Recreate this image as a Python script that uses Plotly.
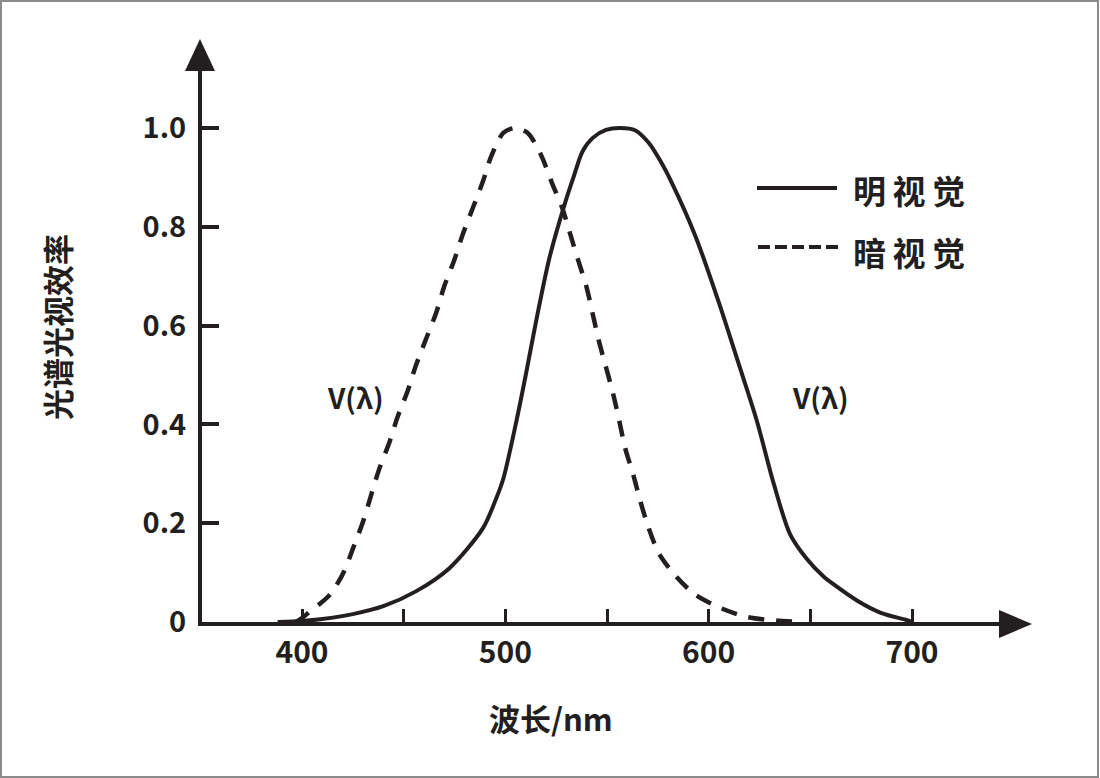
# -*- coding: utf-8 -*-
#
# Spectral luminous efficiency: photopic vs scotopic V(lambda).

import plotly.graph_objects as go

# photopic (明视觉)
photopic_nm = [388, 400, 410, 425, 440, 456, 472.5, 489, 495.5, 499, 505, 510,
               515, 521.5, 529.5, 533.5, 538, 543, 549.5, 556.5, 564, 570.5, 576, 582,
               593.5, 605, 614.5, 623.5, 632, 640, 648, 656.5, 660.5, 673.5, 685, 696.5,
               700]
photopic_v = [0, 0.002, 0.006, 0.016, 0.032, 0.062, 0.109, 0.19, 0.25, 0.29,
              0.398, 0.499, 0.606, 0.734, 0.85, 0.9, 0.953, 0.98, 0.996, 1.0, 0.995,
              0.97, 0.935, 0.888, 0.781, 0.647, 0.526, 0.41, 0.28, 0.178, 0.129, 0.092,
              0.079, 0.042, 0.018, 0.005, 0.0]

# scotopic (暗视觉)
scotopic_nm = [397, 400, 403, 413, 417, 421, 425, 430, 434, 438, 443, 447, 452, 456, 461,
               466, 470, 475, 479, 484, 489, 493, 499, 505, 511, 517.5, 523, 528, 532, 536,
               540, 543, 546, 549.5, 553, 556, 559, 563, 566.5, 570.5, 575.5, 584, 593.5,
               606, 619, 633, 646]
scotopic_v = [0, 0.008, 0.018, 0.052, 0.075, 0.105, 0.148, 0.203, 0.257, 0.310, 0.364,
              0.415, 0.468, 0.519, 0.573, 0.626, 0.680, 0.734, 0.784, 0.838, 0.892, 0.942,
              0.99, 1.0, 0.99, 0.946, 0.888, 0.838, 0.784, 0.73, 0.677, 0.623, 0.569,
              0.516, 0.462, 0.408, 0.351, 0.297, 0.243, 0.190, 0.139, 0.092, 0.055, 0.028,
              0.010, 0.003, 0]

x_ticks = [400, 450, 500, 550, 600, 650, 700]
x_ticktext = ['400', '', '500', '', '600', '', '700']
y_ticks = [0, 0.2, 0.4, 0.6, 0.8, 1.0]
y_ticktext = ['0', '0.2', '0.4', '0.6', '0.8', '1.0']

INK = '#231f20'
FONT = 'Noto Sans CJK SC'
SP = '\u2009'

# plot area in pixels
L, R, T, B = 202, 95, 60, 156
W, H = 1100 - L - R, 778 - T - B


def px(x):
    return (x - L) / W


def py(y):
    return (778 - B - y) / H


def font(size):
    return {'family': FONT, 'size': size, 'color': INK, 'weight': 'bold'}


nm_per_px = 300 / 610.0
x_range = [400 + (L - 302) * nm_per_px, 400 + (1100 - R - 302) * nm_per_px]
y_range = [0, H / 494.0]

fig = go.Figure()

fig.add_trace(go.Scatter(
    x=photopic_nm, y=photopic_v, mode='lines', name='明视觉',
    line={'color': INK, 'width': 4, 'shape': 'spline', 'smoothing': 0.8},
))
fig.add_trace(go.Scatter(
    x=scotopic_nm, y=scotopic_v, mode='lines', name='暗视觉',
    line={'color': INK, 'width': 4.5, 'dash': '16px,12px', 'shape': 'spline', 'smoothing': 0.8},
))

shapes = [
    # frame
    {'type': 'rect', 'xref': 'paper', 'yref': 'paper',
     'x0': px(1), 'x1': px(1098), 'y0': py(777), 'y1': py(1),
     'line': {'color': '#8a8a8a', 'width': 2}},
    # arrow heads
    {'type': 'path', 'xref': 'paper', 'yref': 'paper',
     'path': 'M %f %f L %f %f L %f %f Z' % (px(999), py(610), px(1032), py(624), px(999), py(638)),
     'fillcolor': INK, 'line': {'width': 0}},
    {'type': 'path', 'xref': 'paper', 'yref': 'paper',
     'path': 'M %f %f L %f %f L %f %f Z' % (px(185), py(71), px(200), py(39), px(215), py(71)),
     'fillcolor': INK, 'line': {'width': 0}},
    # legend samples
    {'type': 'line', 'xref': 'paper', 'yref': 'paper',
     'x0': px(757), 'x1': px(837), 'y0': py(188), 'y1': py(188),
     'line': {'color': INK, 'width': 4}},
    {'type': 'line', 'xref': 'paper', 'yref': 'paper',
     'x0': px(758), 'x1': px(840), 'y0': py(247), 'y1': py(247),
     'line': {'color': INK, 'width': 4, 'dash': '12px,5px'}},
]

annotations = [
    {'text': SP.join('明视觉'), 'xref': 'paper', 'yref': 'paper', 'x': px(851), 'y': py(190),
     'xanchor': 'left', 'yanchor': 'middle', 'showarrow': False, 'font': font(33)},
    {'text': SP.join('暗视觉'), 'xref': 'paper', 'yref': 'paper', 'x': px(851), 'y': py(252),
     'xanchor': 'left', 'yanchor': 'middle', 'showarrow': False, 'font': font(33)},
    {'text': 'V(λ)', 'x': 426.5, 'y': 0.455, 'showarrow': False,
     'xanchor': 'center', 'yanchor': 'middle', 'font': font(28)},
    {'text': 'V(λ)', 'x': 655, 'y': 0.455, 'showarrow': False,
     'xanchor': 'center', 'yanchor': 'middle', 'font': font(28)},
    {'text': '光谱光视效率', 'xref': 'paper', 'yref': 'paper', 'x': px(56), 'y': py(327),
     'xanchor': 'center', 'yanchor': 'middle', 'textangle': -90, 'showarrow': False,
     'font': font(31)},
    {'text': '波长/nm', 'xref': 'paper', 'yref': 'paper', 'x': px(551), 'y': py(717),
     'xanchor': 'center', 'yanchor': 'middle', 'showarrow': False, 'font': font(31)},
]

fig.update_layout(
    width=1100, height=778,
    margin={'l': L, 'r': R, 't': T, 'b': B},
    paper_bgcolor='white', plot_bgcolor='white',
    showlegend=False,
    shapes=shapes,
    annotations=annotations,
    xaxis={
        'range': x_range, 'showgrid': False, 'zeroline': False,
        'showline': True, 'linewidth': 4, 'linecolor': INK,
        'ticks': 'inside', 'ticklen': 13, 'tickwidth': 3, 'tickcolor': INK,
        'tickvals': x_ticks, 'ticktext': x_ticktext, 'ticklabelstandoff': 1,
        'tickfont': font(30),
    },
    yaxis={
        'range': y_range, 'showgrid': False, 'zeroline': False,
        'showline': True, 'linewidth': 4, 'linecolor': INK,
        'ticks': 'inside', 'ticklen': 17, 'tickwidth': 3.5, 'tickcolor': INK,
        'tickvals': y_ticks, 'ticktext': y_ticktext, 'ticklabelstandoff': 6,
        'tickfont': font(29),
    },
)

fig.write_html('out.html', config={'displayModeBar': False},
               post_script="document.body.style.margin = '0';")
